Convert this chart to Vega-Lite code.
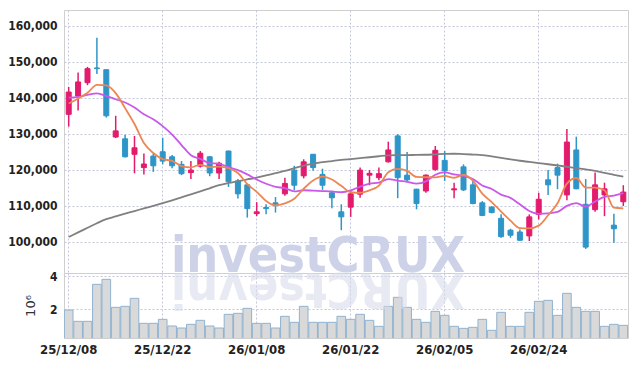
{
"$schema": "https://vega.github.io/schema/vega-lite/v6.json",
"background": "white",
"padding": {"left": 7, "top": 9, "right": 8, "bottom": 5},
"spacing": 0,
"bounds": "flush",
"resolve": {"scale": {"y": "independent"}},
"config": {
"view": {"stroke": "#cfcfcf", "strokeWidth": 1},
"axis": {"labelFont": "DejaVu Sans Condensed, Roboto, sans-serif", "labelFontWeight": "bold", "labelFontSize": 12, "labelColor": "#222222", "gridColor": "#c5c8da", "gridDash": [2, 2], "gridWidth": 1, "domain": false, "ticks": false, "labelPadding": 7}
},
"data": {"values": [
{"d":"25/12/08","o":135400,"h":143000,"l":132000,"c":141600,"m5":138400,"m10":140050,"m60":101300,"v":1.96},
{"d":"25/12/09","o":140500,"h":147000,"l":136500,"c":144400,"m5":139800,"m10":140250,"m60":102580,"v":1.28},
{"d":"25/12/10","o":144200,"h":148600,"l":143500,"c":148100,"m5":141400,"m10":140800,"m60":103860,"v":1.28},
{"d":"25/12/11","o":148300,"h":156700,"l":146600,"c":148100,"m5":143600,"m10":141200,"m60":105140,"v":3.50},
{"d":"25/12/12","o":147800,"h":147900,"l":134500,"c":135000,"m5":143440,"m10":140500,"m60":106280,"v":3.80},
{"d":"25/12/15","o":129100,"h":135000,"l":128800,"c":130800,"m5":141280,"m10":139600,"m60":107030,"v":2.12},
{"d":"25/12/16","o":128600,"h":129700,"l":123400,"c":123600,"m5":137120,"m10":138700,"m60":107780,"v":2.18},
{"d":"25/12/17","o":124300,"h":129400,"l":119000,"c":126100,"m5":132720,"m10":137300,"m60":108500,"v":2.66},
{"d":"25/12/18","o":120600,"h":124500,"l":118700,"c":121600,"m5":127420,"m10":135400,"m60":109260,"v":1.16},
{"d":"25/12/19","o":123800,"h":124500,"l":119400,"c":121100,"m5":124640,"m10":134040,"m60":109980,"v":1.16},
{"d":"25/12/22","o":125000,"h":128900,"l":121500,"c":122400,"m5":122960,"m10":132120,"m60":110730,"v":1.40},
{"d":"25/12/23","o":123600,"h":124100,"l":120400,"c":121100,"m5":122460,"m10":129790,"m60":111510,"v":1.00},
{"d":"25/12/24","o":121500,"h":122400,"l":118500,"c":118900,"m5":121020,"m10":126870,"m60":112340,"v":0.88},
{"d":"25/12/26","o":119200,"h":122400,"l":117400,"c":119900,"m5":120680,"m10":124050,"m60":113150,"v":1.10},
{"d":"25/12/29","o":121000,"h":125200,"l":120600,"c":124600,"m5":121380,"m10":123010,"m60":113990,"v":1.34},
{"d":"25/12/30","o":123600,"h":123800,"l":118200,"c":119100,"m5":120720,"m10":121840,"m60":114850,"v":1.00},
{"d":"26/01/02","o":119100,"h":122200,"l":117400,"c":121800,"m5":120860,"m10":121660,"m60":115710,"v":0.88},
{"d":"26/01/05","o":125200,"h":125300,"l":115200,"c":116700,"m5":120420,"m10":120720,"m60":116320,"v":1.70},
{"d":"26/01/06","o":116900,"h":117400,"l":112000,"c":113300,"m5":119100,"m10":119890,"m60":116820,"v":1.76},
{"d":"26/01/07","o":115800,"h":116000,"l":106700,"c":109200,"m5":116020,"m10":118700,"m60":117320,"v":2.06},
{"d":"26/01/08","o":107800,"h":111000,"l":107100,"c":108300,"m5":113860,"m10":117290,"m60":117800,"v":1.16},
{"d":"26/01/09","o":109500,"h":110400,"l":107600,"c":109200,"m5":111340,"m10":116100,"m60":118410,"v":1.16},
{"d":"26/01/12","o":110800,"h":112400,"l":108100,"c":110400,"m5":110080,"m10":115250,"m60":119050,"v":0.88},
{"d":"26/01/13","o":113300,"h":117800,"l":112800,"c":116200,"m5":110660,"m10":114880,"m60":119660,"v":1.58},
{"d":"26/01/14","o":119900,"h":121100,"l":114300,"c":115700,"m5":111960,"m10":113990,"m60":120440,"v":1.22},
{"d":"26/01/15","o":118300,"h":122900,"l":117600,"c":122200,"m5":114740,"m10":114300,"m60":121160,"v":2.18},
{"d":"26/01/16","o":124300,"h":124400,"l":119700,"c":120600,"m5":117020,"m10":114180,"m60":121660,"v":1.22},
{"d":"26/01/19","o":118700,"h":120300,"l":114400,"c":115700,"m5":118080,"m10":114080,"m60":122110,"v":1.22},
{"d":"26/01/20","o":113600,"h":114100,"l":109300,"c":112200,"m5":117280,"m10":113970,"m60":122420,"v":1.22},
{"d":"26/01/21","o":108300,"h":110400,"l":103200,"c":106900,"m5":115520,"m10":113740,"m60":122720,"v":1.58},
{"d":"26/01/22","o":109600,"h":114300,"l":106900,"c":113300,"m5":113740,"m10":114240,"m60":122970,"v":1.40},
{"d":"26/01/23","o":113200,"h":120600,"l":112200,"c":119900,"m5":113600,"m10":115310,"m60":123220,"v":1.70},
{"d":"26/01/26","o":118500,"h":119900,"l":115700,"c":119000,"m5":114260,"m10":116170,"m60":123470,"v":1.34},
{"d":"26/01/27","o":117800,"h":120600,"l":117100,"c":118900,"m5":115600,"m10":116440,"m60":123750,"v":0.98},
{"d":"26/01/28","o":122200,"h":127800,"l":122000,"c":125500,"m5":119320,"m10":117420,"m60":124000,"v":2.18},
{"d":"26/01/29","o":129400,"h":129900,"l":112100,"c":117800,"m5":120220,"m10":116980,"m60":124060,"v":2.72},
{"d":"26/01/30","o":118500,"h":124900,"l":116600,"c":117200,"m5":119680,"m10":116640,"m60":124080,"v":2.12},
{"d":"26/02/02","o":114600,"h":114700,"l":109000,"c":110600,"m5":118000,"m10":116130,"m60":124110,"v":1.40},
{"d":"26/02/03","o":114100,"h":118700,"l":113600,"c":118500,"m5":117920,"m10":116760,"m60":124170,"v":1.22},
{"d":"26/02/04","o":120100,"h":126600,"l":119700,"c":125400,"m5":117900,"m10":118610,"m60":124280,"v":1.88},
{"d":"26/02/05","o":122600,"h":125200,"l":116900,"c":119700,"m5":118280,"m10":119250,"m60":124390,"v":1.64},
{"d":"26/02/06","o":114400,"h":116400,"l":112100,"c":114700,"m5":117780,"m10":118730,"m60":124450,"v":0.98},
{"d":"26/02/09","o":120800,"h":121500,"l":114100,"c":114400,"m5":118540,"m10":118270,"m60":124340,"v":0.86},
{"d":"26/02/10","o":115800,"h":116900,"l":110400,"c":110600,"m5":116960,"m10":117440,"m60":124220,"v":0.92},
{"d":"26/02/11","o":110800,"h":111300,"l":107100,"c":107300,"m5":113340,"m10":115620,"m60":124080,"v":1.40},
{"d":"26/02/12","o":109600,"h":109900,"l":107900,"c":108100,"m5":111020,"m10":114650,"m60":123700,"v":0.74},
{"d":"26/02/13","o":106500,"h":107600,"l":101100,"c":101400,"m5":108360,"m10":113070,"m60":123310,"v":1.82},
{"d":"26/02/19","o":103200,"h":103600,"l":101100,"c":101800,"m5":105840,"m10":112190,"m60":122890,"v":0.98},
{"d":"26/02/20","o":102700,"h":103400,"l":100200,"c":100400,"m5":103800,"m10":110380,"m60":122500,"v":0.98},
{"d":"26/02/23","o":101600,"h":107600,"l":100200,"c":106900,"m5":103720,"m10":108530,"m60":122170,"v":1.82},
{"d":"26/02/24","o":107600,"h":113600,"l":106200,"c":111800,"m5":104460,"m10":107740,"m60":121830,"v":2.48},
{"d":"26/02/25","o":117200,"h":119900,"l":113000,"c":115800,"m5":107340,"m10":107850,"m60":121530,"v":2.54},
{"d":"26/02/26","o":120600,"h":121700,"l":114600,"c":118500,"m5":110680,"m10":108260,"m60":121190,"v":1.64},
{"d":"26/02/27","o":113000,"h":131300,"l":111500,"c":127700,"m5":116140,"m10":109970,"m60":120830,"v":2.96},
{"d":"26/03/03","o":125500,"h":129200,"l":114600,"c":114700,"m5":117700,"m10":110710,"m60":120470,"v":2.12},
{"d":"26/03/04","o":110400,"h":117400,"l":98000,"c":98500,"m5":115040,"m10":109750,"m60":120080,"v":1.88},
{"d":"26/03/05","o":108900,"h":119200,"l":108300,"c":115800,"m5":115040,"m10":111190,"m60":119690,"v":1.88},
{"d":"26/03/06","o":113000,"h":116400,"l":107100,"c":114700,"m5":114280,"m10":112480,"m60":119130,"v":0.98},
{"d":"26/03/09","o":104600,"h":107800,"l":99700,"c":103600,"m5":109460,"m10":112800,"m60":118600,"v":1.10},
{"d":"26/03/10","o":111100,"h":115700,"l":109900,"c":113800,"m5":109280,"m10":113490,"m60":118080,"v":1.04}
]},
"vconcat": [
{
"width": 564, "height": 263,
"encoding": {
"x": {"field": "d", "type": "ordinal", "sort": "ascending", "title": null,
"scale": {"paddingInner": 0, "paddingOuter": 0},
"axis": {"labels": false, "grid": true, "bandPosition": 0.5, "values": ["25/12/08","25/12/22","26/01/08","26/01/22","26/02/05","26/02/24"]}}
},
"layer": [
{"transform": [{"filter": "datum.d == '26/01/16'"}],
 "mark": {"type": "text", "text": "investCRUX", "font": "DejaVu Sans Condensed, Roboto, sans-serif", "fontWeight": "bold", "fontSize": 50, "color": "#cdd2e8", "align": "center", "baseline": "alphabetic", "dx": 5},
 "encoding": {"y": {"datum": 91500}}},
{"mark": {"type": "rule", "strokeWidth": 1.5},
 "encoding": {
 "y": {"field": "l", "type": "quantitative", "title": null,
 "scale": {"domain": [91300, 164400], "nice": false, "zero": false},
 "axis": {"values": [100000,110000,120000,130000,140000,150000,160000], "format": ",d", "grid": true}},
 "y2": {"field": "h"},
 "color": {"condition": {"test": "datum.c >= datum.o", "value": "#e31b6d"}, "value": "#2e95c8"}}},
{"mark": {"type": "bar", "size": 5, "strokeWidth": 1},
 "encoding": {
 "y": {"field": "o", "type": "quantitative"},
 "y2": {"field": "c"},
 "color": {"condition": {"test": "datum.c >= datum.o", "value": "#e31b6d"}, "value": "#2e95c8"},
 "stroke": {"condition": {"test": "datum.c >= datum.o", "value": "#e31b6d"}, "value": "#2e95c8"}}},
{"mark": {"type": "line", "color": "#808080", "strokeWidth": 1.8, "interpolate": "monotone"},
 "encoding": {"y": {"field": "m60", "type": "quantitative"}}},
{"mark": {"type": "line", "color": "#ca58ea", "strokeWidth": 1.8, "interpolate": "monotone"},
 "encoding": {"y": {"field": "m10", "type": "quantitative"}}},
{"mark": {"type": "line", "color": "#ee8652", "strokeWidth": 1.8, "interpolate": "monotone"},
 "encoding": {"y": {"field": "m5", "type": "quantitative"}}}
]
},
{
"width": 564, "height": 65,
"encoding": {
"x": {"field": "d", "type": "ordinal", "sort": "ascending", "title": null,
"scale": {"paddingInner": 0, "paddingOuter": 0},
"axis": {"grid": true, "bandPosition": 0.5, "labelAngle": 0, "labelPadding": 5, "labelFontSize": 13, "values": ["25/12/08","25/12/22","26/01/08","26/01/22","26/02/05","26/02/24"]}}
},
"layer": [
{"mark": {"type": "bar", "clip": true, "width": {"band": 0.92}, "fill": "#d9d9d9", "stroke": "#8fb2d0", "strokeWidth": 1},
 "encoding": {
 "y": {"field": "v", "type": "quantitative",
 "scale": {"domain": [0.28, 4.18], "nice": false, "zero": false},
 "axis": {"values": [2, 4], "grid": true, "title": "10⁶", "titleFont": "DejaVu Sans", "titleFontWeight": "normal", "titleFontSize": 13, "titleColor": "#333333", "titlePadding": 12}}}},
{"transform": [{"filter": "datum.d == '26/01/16'"}],
 "mark": {"type": "text", "text": "XURCtsevni", "font": "DejaVu Sans Condensed, Roboto, sans-serif", "fontWeight": "bold", "fontSize": 50, "color": "#d6daea", "opacity": 0.55, "align": "center", "baseline": "alphabetic", "angle": 180, "dx": -5},
 "encoding": {"y": {"datum": 4.18}}}
]
}
]
}
